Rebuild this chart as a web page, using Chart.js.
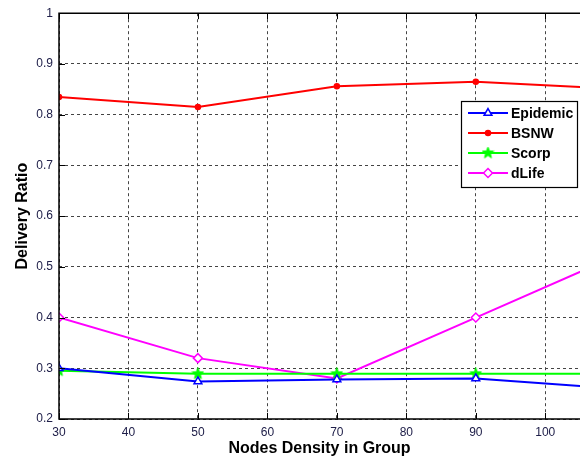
<!DOCTYPE html>
<html><head><meta charset="utf-8">
<script src="https://cdn.jsdelivr.net/npm/chart.js@4"></script>
<style>html,body{margin:0;padding:0;background:#fff;overflow:hidden}#wrap{width:580px;height:459px;position:relative}</style>
</head><body><div id="wrap"><canvas id="c" width="580" height="459"></canvas></div>
<script>
const xValues = [30, 50, 70, 90, 110];
const epidemic = [0.300, 0.274, 0.278, 0.280, 0.260];
const bsnw = [0.835, 0.815, 0.856, 0.865, 0.851];
const scorp = [0.295, 0.289, 0.289, 0.289, 0.289];
const dlife = [0.400, 0.320, 0.280, 0.400, 0.520];
const seriesNames = ['Epidemic', 'BSNW', 'Scorp', 'dLife'];
const xTicks = [30, 40, 50, 60, 70, 80, 90, 100];
const yTicks = [0.2, 0.3, 0.4, 0.5, 0.6, 0.7, 0.8, 0.9, 1];
const X_MIN = 30, X_MAX = 105;

const FONT = '"Liberation Sans", Arial, sans-serif';

function starImage(color, size) {
  const c = document.createElement('canvas');
  c.width = size; c.height = size;
  const g = c.getContext('2d');
  const cx = size / 2, cy = size / 2, R = size / 2 - 0.5, r = R * 0.42;
  g.beginPath();
  for (let i = 0; i < 10; i++) {
    const ang = -Math.PI / 2 + i * Math.PI / 5;
    const rad = i % 2 === 0 ? R : r;
    const px = cx + rad * Math.cos(ang), py = cy + rad * Math.sin(ang);
    if (i === 0) g.moveTo(px, py); else g.lineTo(px, py);
  }
  g.closePath();
  g.fillStyle = color; g.fill();
  g.strokeStyle = color; g.lineWidth = 1; g.stroke();
  return c;
}

const pts = arr => arr.map((v, i) => ({x: xValues[i], y: v}));
const mk = (label, data, color, style, radius, fill) => ({
  label, data: pts(data), borderColor: color, backgroundColor: fill ? color : '#ffffff',
  pointStyle: style, pointRadius: radius, pointBorderColor: color, pointBorderWidth: 1.5,
  borderWidth: 2, tension: 0, fill: false
});

const boxPlugin = {
  id: 'box',
  afterDatasetsDraw(chart) {
    const {ctx, chartArea: a, scales} = chart;
    ctx.save();
    ctx.strokeStyle = '#000'; ctx.lineWidth = 1.5;
    ctx.beginPath();
    ctx.moveTo(a.right + 5, a.top); ctx.lineTo(a.left, a.top); ctx.lineTo(a.left, a.bottom); ctx.lineTo(a.right + 5, a.bottom);
    ctx.stroke();
    ctx.lineWidth = 1;
    ctx.beginPath();
    yTicks.forEach(v => {
      const y = Math.round(scales.y.getPixelForValue(v)) + 0.5;
      ctx.moveTo(a.left, y); ctx.lineTo(a.left + 6, y);
    });
    xTicks.forEach(v => {
      const x = Math.round(scales.x.getPixelForValue(v)) + 0.5;
      ctx.moveTo(x, a.bottom); ctx.lineTo(x, a.bottom - 6);
      ctx.moveTo(x, a.top); ctx.lineTo(x, a.top + 6);
    });
    ctx.stroke();
    ctx.restore();
  },
  afterDraw(chart) {
    const {ctx} = chart;
    const L = 461, T = 101, W = 116, H = 86;
    ctx.save();
    ctx.fillStyle = '#fff'; ctx.fillRect(L, T, W, H);
    ctx.strokeStyle = '#000'; ctx.lineWidth = 1.2; ctx.strokeRect(L + 0.5, T + 0.5, W, H);
    const rows = [113, 133, 153, 173];
    chart.data.datasets.forEach((ds, i) => {
      const y = rows[i];
      ctx.strokeStyle = ds.borderColor; ctx.lineWidth = 2;
      ctx.beginPath(); ctx.moveTo(468, y); ctx.lineTo(508, y); ctx.stroke();
      ctx.fillStyle = ds.backgroundColor; ctx.lineWidth = 1.5;
      Chart.helpers.drawPoint(ctx, {pointStyle: ds.pointStyle, radius: ds.pointRadius, rotation: 0, borderWidth: 1.5}, 488, y);
      ctx.fillStyle = '#000';
      ctx.font = 'bold 14px ' + FONT;
      ctx.textBaseline = 'middle'; ctx.textAlign = 'left';
      ctx.fillText(ds.label, 511, y + 1);
    });
    ctx.restore();
  }
};

new Chart(document.getElementById('c'), {
  type: 'line',
  data: {
    datasets: [
      mk(seriesNames[0], epidemic, '#0000ff', 'triangle', 4.5, false),
      mk(seriesNames[1], bsnw, '#ff0000', 'circle', 2.5, true),
      mk(seriesNames[2], scorp, '#00ff00', starImage('#00ff00', 13), 6, true),
      mk(seriesNames[3], dlife, '#ff00ff', 'rectRot', 4.5, false)
    ]
  },
  options: {
    responsive: false, animation: false,
    layout: {autoPadding: false, padding: {top: 12, right: 0, left: 0, bottom: 0}},
    plugins: {legend: {display: false}, tooltip: {enabled: false}},
    scales: {
      x: {
        type: 'linear', min: X_MIN, max: X_MAX,
        afterBuildTicks: s => { s.ticks = xTicks.concat([X_MAX]).map(v => ({value: v})); },
        afterFit: s => { s.height = 40; s.paddingRight = 0; s.paddingLeft = 0; },
        grid: {color: c => (c.tick && c.tick.value === X_MAX) ? 'rgba(0,0,0,0)' : '#444', lineWidth: 1, drawTicks: false},
        border: {display: false, dash: [3, 3]},
        ticks: {color: '#20204a', padding: 6, font: {size: 12, family: FONT}, maxRotation: 0, autoSkip: false,
          callback: v => (v === X_MAX ? '' : String(v))},
        title: {display: true, text: 'Nodes Density in Group', color: '#000', padding: {top: 0, bottom: 1}, font: {size: 16, weight: 'bold', family: FONT}}
      },
      y: {
        type: 'linear', min: 0.2, max: 1,
        afterBuildTicks: s => { s.ticks = yTicks.map(v => ({value: v})); },
        afterFit: s => { s.width = 59; },
        grid: {color: '#444', lineWidth: 1, drawTicks: false},
        border: {display: false, dash: [3, 3]},
        ticks: {color: '#20204a', padding: 6, font: {size: 12, family: FONT}, callback: v => String(Math.round(v * 10) / 10)},
        title: {display: true, text: 'Delivery Ratio', color: '#000', padding: {top: 13, bottom: 4}, font: {size: 16, weight: 'bold', family: FONT}}
      }
    }
  },
  plugins: [boxPlugin]
});
</script></body></html>
